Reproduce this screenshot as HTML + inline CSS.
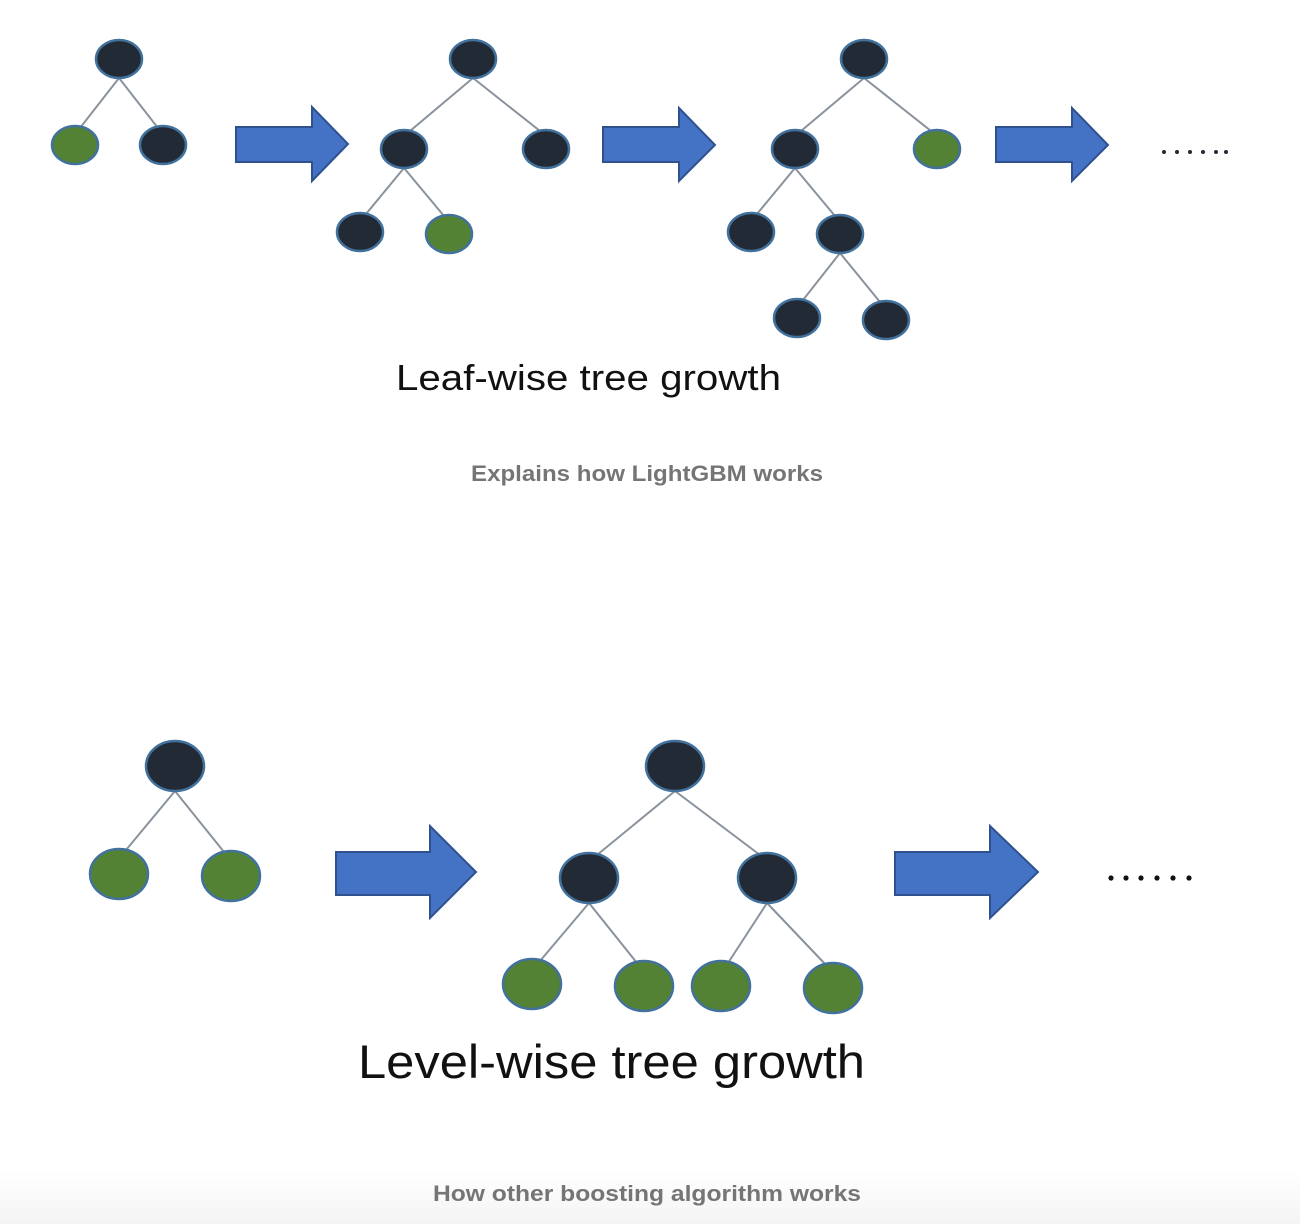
<!DOCTYPE html>
<html><head><meta charset="utf-8"><style>
html,body{margin:0;padding:0;background:#fff;}
svg{display:block;}
</style></head><body>
<svg width="1300" height="1224" viewBox="0 0 1300 1224" xmlns="http://www.w3.org/2000/svg">
<defs>
<linearGradient id="bg" x1="0" y1="0" x2="0" y2="1">
<stop offset="0" stop-color="#ffffff"/><stop offset="1" stop-color="#f4f4f4"/>
</linearGradient>
</defs>
<rect x="0" y="1170" width="1300" height="54" fill="url(#bg)"/>
<g stroke="#8a929c" stroke-width="2" fill="none">
<line x1="119" y1="78" x2="80" y2="128"/><line x1="119" y1="78" x2="158" y2="128"/>
<line x1="473" y1="78" x2="410" y2="131"/><line x1="473" y1="78" x2="540" y2="131"/>
<line x1="404" y1="168" x2="366" y2="214"/><line x1="404" y1="168" x2="444" y2="216"/>
<line x1="864" y1="78" x2="801" y2="131"/><line x1="864" y1="78" x2="931" y2="131"/>
<line x1="795" y1="168" x2="757" y2="214"/><line x1="795" y1="168" x2="835" y2="216"/>
<line x1="840" y1="253" x2="803" y2="300"/><line x1="840" y1="253" x2="880" y2="302"/>
<line x1="175" y1="791" x2="126" y2="850"/><line x1="175" y1="791" x2="224" y2="852"/>
<line x1="675" y1="791" x2="597" y2="855"/><line x1="675" y1="791" x2="760" y2="855"/>
<line x1="589" y1="903" x2="540" y2="961"/><line x1="589" y1="903" x2="637" y2="963"/>
<line x1="767" y1="903" x2="728" y2="963"/><line x1="767" y1="903" x2="826" y2="965"/>
</g>
<g stroke="#41719c" stroke-width="2.5">
<g fill="#222a35">
<ellipse cx="119" cy="59" rx="23" ry="19"/><ellipse cx="163" cy="145" rx="23" ry="19"/>
<ellipse cx="473" cy="59" rx="23" ry="19"/><ellipse cx="404" cy="149" rx="23" ry="19"/><ellipse cx="546" cy="149" rx="23" ry="19"/><ellipse cx="360" cy="232" rx="23" ry="19"/>
<ellipse cx="864" cy="59" rx="23" ry="19"/><ellipse cx="795" cy="149" rx="23" ry="19"/><ellipse cx="751" cy="232" rx="23" ry="19"/><ellipse cx="840" cy="234" rx="23" ry="19"/><ellipse cx="797" cy="318" rx="23" ry="19"/><ellipse cx="886" cy="320" rx="23" ry="19"/>
<ellipse cx="175" cy="766" rx="29" ry="25"/><ellipse cx="675" cy="766" rx="29" ry="25"/><ellipse cx="589" cy="878" rx="29" ry="25"/><ellipse cx="767" cy="878" rx="29" ry="25"/>
</g>
<g fill="#548235">
<ellipse cx="75" cy="145" rx="23" ry="19"/><ellipse cx="449" cy="234" rx="23" ry="19"/><ellipse cx="937" cy="149" rx="23" ry="19"/>
<ellipse cx="119" cy="874" rx="29" ry="25"/><ellipse cx="231" cy="876" rx="29" ry="25"/>
<ellipse cx="532" cy="984" rx="29" ry="25"/><ellipse cx="644" cy="986" rx="29" ry="25"/><ellipse cx="721" cy="986" rx="29" ry="25"/><ellipse cx="833" cy="988" rx="29" ry="25"/>
</g>
</g>
<g fill="#4472c4" stroke="#2f528f" stroke-width="2">
<polygon points="236,127 312,127 312,107 348,144 312,181 312,162 236,162"/>
<polygon points="603,127 679,127 679,108 715,145 679,181 679,162 603,162"/>
<polygon points="996,127 1072,127 1072,108 1108,145 1072,181 1072,162 996,162"/>
<polygon points="336,852 430,852 430,826 476,872 430,918 430,895 336,895"/>
<polygon points="895,852 990,852 990,826 1038,872 990,918 990,895 895,895"/>
</g>
<g fill="#222a35">
<circle cx="1164" cy="152" r="2"/><circle cx="1177" cy="152" r="2"/><circle cx="1190" cy="152" r="2"/><circle cx="1203" cy="152" r="2"/><circle cx="1216" cy="152" r="2"/><circle cx="1226" cy="152" r="2"/>
</g>
<g fill="#111">
<circle cx="1111" cy="878" r="2.6"/><circle cx="1126" cy="878" r="2.6"/><circle cx="1141" cy="878" r="2.6"/><circle cx="1157" cy="878" r="2.6"/><circle cx="1173" cy="878" r="2.6"/><circle cx="1189" cy="878" r="2.6"/>
</g>
<text x="396" y="390" font-family="Liberation Sans, sans-serif" font-size="36" fill="#111" textLength="385" lengthAdjust="spacingAndGlyphs">Leaf-wise tree growth</text>
<text x="471" y="481" font-family="Liberation Sans, sans-serif" font-size="22" font-weight="bold" fill="#757575" textLength="352" lengthAdjust="spacingAndGlyphs">Explains how LightGBM works</text>
<text x="358" y="1078" font-family="Liberation Sans, sans-serif" font-size="47" fill="#111" textLength="507" lengthAdjust="spacingAndGlyphs">Level-wise tree growth</text>
<text x="433" y="1201" font-family="Liberation Sans, sans-serif" font-size="22" font-weight="bold" fill="#757575" textLength="428" lengthAdjust="spacingAndGlyphs">How other boosting algorithm works</text>
</svg>
</body></html>
